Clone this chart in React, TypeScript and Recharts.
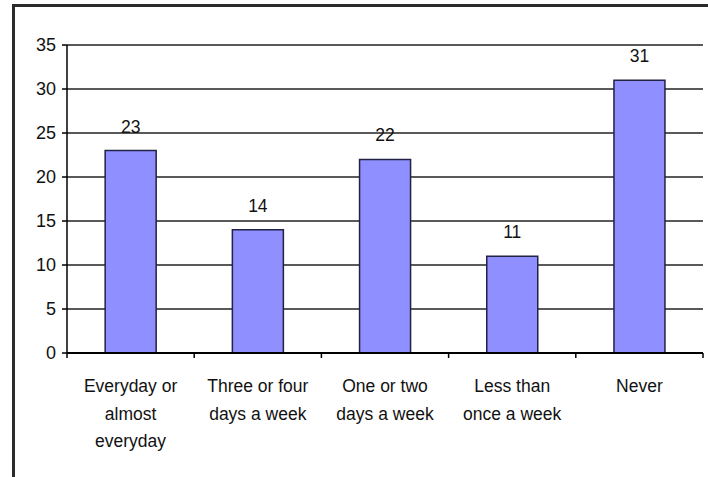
import { Bar, BarChart, CartesianGrid, LabelList, XAxis, YAxis } from "recharts"

const categories = [
  "Everyday or|almost|everyday",
  "Three or four|days a week",
  "One or two|days a week",
  "Less than|once a week",
  "Never",
]
const counts = [23, 14, 22, 11, 31]
const yTicks = [0, 5, 10, 15, 20, 25, 30, 35]

const data = categories.map((name, i) => ({ name, count: counts[i] }))

const font = "'Liberation Sans', Arial, sans-serif"
const plotWidth = 636
const band = plotWidth / categories.length

function CategoryTick(props: any) {
  const { x, y, payload, index } = props
  const lines = String(payload.value).split("|")
  const left = x - band / 2
  return (
    <g>
      <line x1={left} y1={y - 8} x2={left} y2={y - 3} stroke="#000" strokeWidth={1.5} />
      {index === categories.length - 1 && (
        <line x1={left + band} y1={y - 8} x2={left + band} y2={y - 3} stroke="#000" strokeWidth={1.5} />
      )}
      <text x={x} y={y} textAnchor="middle" fontSize={17.5} fill="#111" fontFamily={font}>
        {lines.map((l, i) => (
          <tspan key={i} x={x} dy={i === 0 ? 31 : 27.5}>
            {l}
          </tspan>
        ))}
      </text>
    </g>
  )
}

export default function App() {
  return (
    <div style={{ position: "absolute", left: 0, top: 0, width: 708, height: 477, overflow: "hidden", background: "#fff" }}>
      <div
        style={{
          position: "absolute",
          left: 12,
          top: 4,
          width: 760,
          height: 560,
          border: "3px solid #2b2b2b",
        }}
      />
      <div style={{ position: "absolute", left: 0, top: 0 }}>
        <BarChart
          width={708}
          height={477}
          data={data}
          margin={{ top: 45, right: 5, bottom: 24, left: 7 }}
          barCategoryGap="30%"
        >
          <CartesianGrid vertical={false} stroke="#222" strokeWidth={1.5} />
          <XAxis
            dataKey="name"
            height={100}
            axisLine={{ stroke: "#000", strokeWidth: 2 }}
            tickLine={false}
            interval={0}
            tick={<CategoryTick />}
          />
          <YAxis
            domain={[0, 35]}
            ticks={yTicks}
            width={60}
            interval={0}
            axisLine={{ stroke: "#000", strokeWidth: 1.5 }}
            tickLine={{ stroke: "#000", strokeWidth: 1.5 }}
            tickSize={5}
            tickMargin={6}
            tick={{ fill: "#111", fontSize: 18, fontFamily: font }}
          />
          <YAxis
            yAxisId="r"
            orientation="right"
            domain={[0, 35]}
            width={0}
            tick={false}
            tickLine={false}
            axisLine={{ stroke: "#888" }}
          />
          <Bar
            dataKey="count"
            fill="#8f8fff"
            stroke="#222244"
            strokeWidth={1.5}
            isAnimationActive={false}
          >
            <LabelList
              dataKey="count"
              position="top"
              offset={18}
              fill="#111"
              fontSize={17.5}
              fontFamily={font}
            />
          </Bar>
        </BarChart>
      </div>
    </div>
  )
}
